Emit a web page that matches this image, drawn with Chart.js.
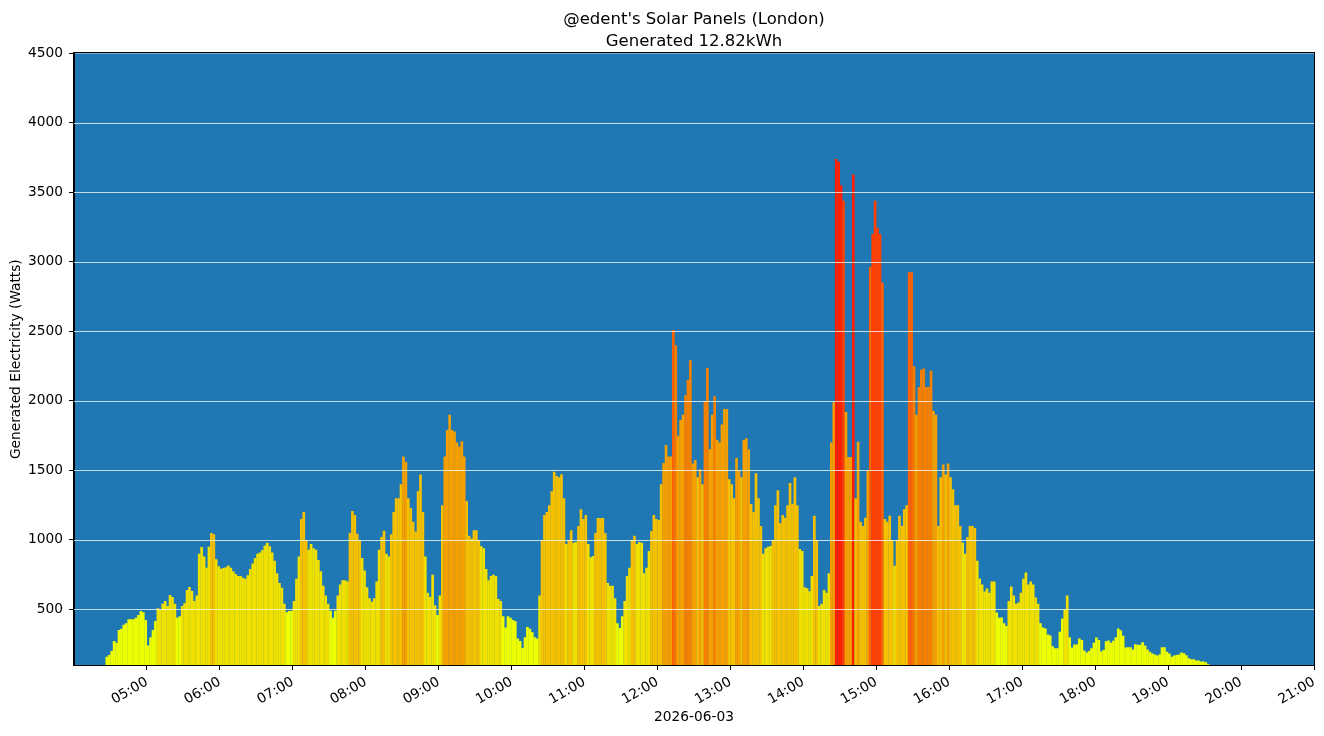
<!DOCTYPE html>
<html>
<head>
<meta charset="utf-8">
<script src="https://cdn.jsdelivr.net/npm/chart.js@4.4.1/dist/chart.umd.min.js"></script>
<style>
  html, body { margin: 0; padding: 0; background: #fff; }
  #wrap { width: 1324px; height: 736px; }
</style>
</head>
<body>
<div id="wrap"><canvas id="solarChart"></canvas></div>
<script>
// readings every 2 minutes, first bar starts at 04:26
const startTime = '04:26';
const stepMinutes = 2;

const watts04 = [160, 172, 200, 273, 260, 352, 361, 390, 400, 430, 430, 430, 440, 460, 488, 480, 424];
const watts05 = [240, 300, 352, 416, 508, 500, 540, 560, 524, 603, 589, 540, 440, 450, 524, 545, 640, 661, 632, 560, 600, 900, 949, 880, 800, 950, 1049, 1040, 860, 810];
const watts06 = [792, 797, 803, 815, 800, 775, 755, 740, 740, 728, 720, 745, 790, 830, 870, 900, 910, 928, 960, 980, 955, 910, 850, 760, 690, 655, 540, 480, 488, 490];
const watts07 = [560, 720, 880, 1150, 1200, 1000, 930, 970, 940, 930, 855, 775, 670, 600, 540, 490, 440, 490, 600, 680, 710, 710, 700, 1050, 1207, 1180, 1045, 1000, 870, 780];
const watts08 = [660, 580, 555, 580, 700, 930, 1020, 1065, 900, 880, 1040, 1200, 1300, 1300, 1400, 1600, 1560, 1300, 1230, 1130, 1060, 1350, 1470, 1200, 880, 620, 590, 750, 530, 460];
const watts09 = [600, 1250, 1600, 1790, 1900, 1790, 1780, 1700, 1670, 1710, 1600, 1280, 1030, 1010, 1070, 1070, 1000, 955, 940, 790, 710, 740, 750, 740, 575, 560, 450, 370, 450, 440];
const watts10 = [424, 415, 290, 272, 222, 300, 373, 360, 335, 300, 290, 600, 1000, 1180, 1200, 1250, 1350, 1490, 1460, 1450, 1473, 1300, 970, 1000, 1070, 980, 985, 1100, 1220, 1150];
const watts11 = [1180, 970, 876, 885, 1049, 1157, 1157, 1157, 1050, 690, 670, 670, 580, 400, 366, 450, 560, 740, 800, 1000, 1030, 970, 985, 980, 760, 800, 920, 1064, 1179, 1150];
const watts12 = [1143, 1400, 1553, 1682, 1600, 1600, 2510, 2400, 1750, 1862, 1900, 2041, 2150, 2293, 1550, 1574, 1450, 1509, 1400, 2000, 2236, 1653, 1900, 2034, 1720, 1700, 1830, 1941, 1941, 1437];
const watts13 = [1400, 1300, 1589, 1500, 1450, 1718, 1732, 1650, 1258, 1200, 1480, 1300, 1100, 900, 940, 950, 956, 1000, 1250, 1358, 1120, 1179, 1160, 1250, 1409, 1260, 1451, 1250, 934, 920];
const watts14 = [660, 653, 630, 740, 1173, 1000, 524, 540, 640, 620, 760, 1700, 1990, 3740, 3720, 3551, 3439, 1920, 1596, 1596, 3629, 1300, 1706, 1130, 1100, 1160, 1500, 2963, 3200, 3439];
const watts15 = [3245, 3200, 2850, 1150, 1130, 1173, 1000, 814, 1000, 1173, 1100, 1222, 1250, 2926, 2926, 2250, 1900, 2100, 2224, 2233, 2100, 2100, 2216, 1927, 1900, 1100, 1450, 1543, 1470, 1550];
const watts16 = [1450, 1365, 1250, 1250, 1100, 981, 900, 1020, 1100, 1100, 1086, 850, 723, 680, 629, 650, 620, 700, 700, 478, 440, 442, 400, 380, 560, 665, 600, 540, 550, 620];
const watts17 = [720, 766, 680, 700, 680, 586, 540, 400, 370, 363, 320, 313, 234, 220, 220, 340, 435, 500, 600, 300, 225, 248, 248, 291, 280, 205, 190, 200, 220, 260];
const watts18 = [298, 280, 198, 208, 270, 277, 260, 275, 300, 363, 350, 310, 225, 227, 227, 212, 250, 245, 245, 263, 240, 212, 195, 183, 176, 169, 175, 227, 227, 195];
const watts19 = [183, 160, 169, 172, 176, 190, 185, 170, 148, 141, 141, 133, 133, 126, 126, 119, 105];

const yTicks = [500, 1000, 1500, 2000, 2500, 3000, 3500, 4000, 4500];
const hourTicks = ['05:00', '06:00', '07:00', '08:00', '09:00', '10:00', '11:00', '12:00',
                   '13:00', '14:00', '15:00', '16:00', '17:00', '18:00', '19:00', '20:00', '21:00'];

const watts = [].concat(watts04, watts05, watts06, watts07, watts08, watts09, watts10, watts11,
                        watts12, watts13, watts14, watts15, watts16, watts17, watts18, watts19);

const toMinutes = (hhmm) => {
    const [h, m] = hhmm.split(':').map(Number);
    return h * 60 + m;
};
const fmtTime = (mins) => String(Math.floor(mins / 60)).padStart(2, '0') + ':' + String(mins % 60).padStart(2, '0');

const firstMinute = toMinutes(startTime);
const times = watts.map((_, i) => fmtTime(firstMinute + i * stepMinutes));

// each 500W band gets its own colour, yellow -> red
const palette = ['#eeff00', '#f0e000', '#f5c000', '#f5a000', '#f58000', '#ff6000', '#ff4000', '#ff2000'];
const colourFor = (w) => palette[Math.min(palette.length - 1, Math.floor(w / 500))];

Chart.defaults.font.family = 'DejaVu Sans';
Chart.defaults.color = '#000';

const plotBackground = {
    id: 'plotBackground',
    beforeDraw(chart) {
        const { ctx, chartArea: a } = chart;
        ctx.save();
        ctx.fillStyle = '#1f77b4';
        ctx.fillRect(a.left, a.top, a.right - a.left, a.bottom - a.top);
        ctx.restore();
    }
};

// matplotlib draws the grid over the bars here
const gridOnTop = {
    id: 'gridOnTop',
    afterDatasetsDraw(chart) {
        const { ctx, chartArea: a, scales } = chart;
        ctx.save();
        ctx.strokeStyle = 'rgba(255,255,255,0.75)';
        ctx.lineWidth = 1;
        yTicks.forEach(v => {
            if (v >= scales.y.max) return;
            const y = Math.round(scales.y.getPixelForValue(v)) + 0.5;
            ctx.beginPath();
            ctx.moveTo(a.left, y);
            ctx.lineTo(a.right, y);
            ctx.stroke();
        });
        // black frame on all four sides
        const l = Math.round(a.left) - 0.5, t = Math.round(a.top) - 0.5;
        const r = Math.round(a.right) + 0.5, b = Math.round(a.bottom) + 0.5;
        ctx.strokeStyle = '#000';
        ctx.strokeRect(l, t, r - l, b - t);
        ctx.restore();
    }
};

const ctx = document.getElementById('solarChart').getContext('2d');

new Chart(ctx, {
    type: 'bar',
    data: {
        datasets: [{
            label: 'Generated',
            data: watts.map((w, i) => ({ x: toMinutes(times[i]) + stepMinutes / 2, y: w })),
            backgroundColor: watts.map(colourFor),
            borderWidth: 0,
            barPercentage: 1.1,
            categoryPercentage: 1,
            clip: 0
        }]
    },
    options: {
        responsive: true,
        maintainAspectRatio: false,
        devicePixelRatio: 1,
        animation: false,
        layout: { padding: { left: 0, right: 10, top: 0, bottom: 0 } },
        plugins: {
            legend: { display: false },
            tooltip: { enabled: false },
            title: {
                display: true,
                fullSize: false,
                text: ["@edent's Solar Panels (London)", 'Generated 12.82kWh'],
                color: '#000',
                font: { size: 16.5, weight: 'normal', lineHeight: 1.33 },
                padding: { top: 8.5, bottom: 1 }
            }
        },
        scales: {
            x: {
                type: 'linear',
                offset: false,
                min: toMinutes('04:00'),
                max: toMinutes('21:00'),
                afterBuildTicks: (axis) => { axis.ticks = hourTicks.map(h => ({ value: toMinutes(h) })); },
                afterFit: (scale) => {
                    scale.height = 71;
                    scale.paddingLeft = 0;
                    scale.paddingRight = 0;
                },
                ticks: {
                    autoSkip: false,
                    minRotation: 30,
                    maxRotation: 30,
                    padding: 4,
                    font: { size: 13.75 },
                    callback: (v) => fmtTime(v)
                },
                grid: { offset: false, drawOnChartArea: false, drawTicks: true, tickLength: 5, tickColor: '#000' },
                border: { display: true, color: '#000' },
                title: {
                    display: true,
                    text: '2026-06-03',
                    font: { size: 13.75 },
                    padding: { top: 0, bottom: 10 }
                }
            },
            y: {
                min: 100,
                max: 4500,
                afterBuildTicks: (axis) => { axis.ticks = yTicks.map(v => ({ value: v })); },
                afterFit: (scale) => { scale.width = 74; },
                ticks: {
                    padding: 6,
                    font: { size: 13.75 },
                    callback: (v) => String(v)
                },
                grid: { drawOnChartArea: false, drawTicks: true, tickLength: 5, tickColor: '#000' },
                border: { display: true, color: '#000' },
                title: {
                    display: true,
                    text: 'Generated Electricity (Watts)',
                    font: { size: 13.75 },
                    padding: { top: 8, bottom: 0 }
                }
            }
        }
    },
    plugins: [plotBackground, gridOnTop]
});
</script>
</body>
</html>
